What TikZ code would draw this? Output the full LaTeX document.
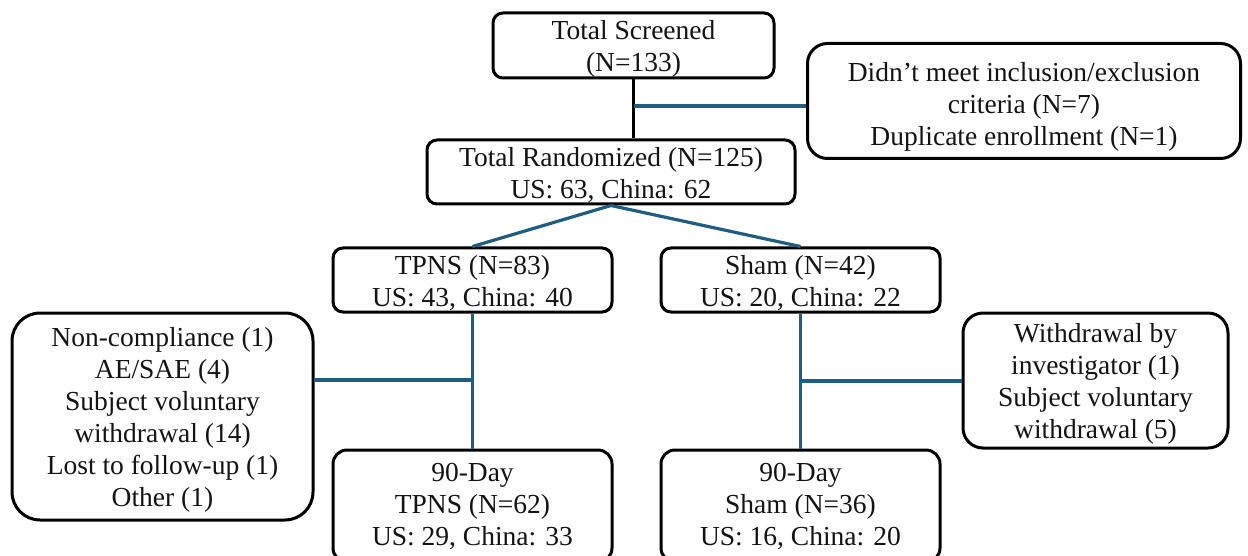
\documentclass[tikz,border=0pt]{standalone}
\usepackage{fontspec}
\setmainfont{Liberation Serif}
\definecolor{linkblue}{RGB}{31,94,128}
\tikzset{
  box/.style={draw=black, line width=3pt, fill=white, inner sep=0pt},
  txt/.style={align=center, inner sep=0pt, yshift=-3.5pt,
    font=\fontsize{27.5}{32}\selectfont, text=black!92},
  link/.style={draw=linkblue, line width=3.2pt},
  blk/.style={draw=black, line width=3pt},
}
\begin{document}
\begin{tikzpicture}[x=1pt,y=-1pt]
\useasboundingbox (0,0) rectangle (1248,556);
% nodes
\node[box, rounded corners=10pt, minimum width=281pt, minimum height=65pt,
  label={[txt]center:{Total Screened\\(N=133)}}] (scr) at (633.5,45.5) {};
\node[box, rounded corners=20pt, minimum width=433pt, minimum height=115pt,
  label={[txt,yshift=-2pt]center:{Didn’t meet inclusion/exclusion\\criteria (N=7)\\Duplicate enrollment (N=1)}}] (crit) at (1024,101) {};
\node[box, rounded corners=10pt, minimum width=368pt, minimum height=64pt,
  label={[txt]center:{Total Randomized (N=125)\\US: 63, China: 62}}] (rand) at (611,172) {};
\node[box, rounded corners=10pt, minimum width=279pt, minimum height=64pt,
  label={[txt]center:{TPNS (N=83)\\US: 43, China: 40}}] (tpns) at (472.5,280) {};
\node[box, rounded corners=10pt, minimum width=279pt, minimum height=64pt,
  label={[txt]center:{Sham (N=42)\\US: 20, China: 22}}] (sham) at (800.5,280) {};
\node[box, rounded corners=28pt, minimum width=301pt, minimum height=207pt,
  label={[txt]center:{Non-compliance (1)\\AE/SAE (4)\\Subject voluntary\\withdrawal (14)\\Lost to follow-up (1)\\Other (1)}}] (nc) at (162.5,416.5) {};
\node[box, rounded corners=20pt, minimum width=265pt, minimum height=135pt,
  label={[txt]center:{Withdrawal by\\investigator (1)\\Subject voluntary\\withdrawal (5)}}] (wd) at (1095.5,380.5) {};
\node[box, rounded corners=14pt, minimum width=279pt, minimum height=112pt,
  label={[txt,yshift=3.5pt]center:{90-Day\\TPNS (N=62)\\US: 29, China: 33}}] (dt) at (472.5,506) {};
\node[box, rounded corners=14pt, minimum width=279pt, minimum height=112pt,
  label={[txt,yshift=3.5pt]center:{90-Day\\Sham (N=36)\\US: 16, China: 20}}] (ds) at (800.5,506) {};
% branch points
\coordinate (b1) at (633.5,106);
\coordinate (b2) at (472.5,380);
\coordinate (b3) at (800.5,381);
% connectors
\draw[blk] (scr.south) -- (scr.south |- rand.north);
\draw[link] (b1) -- (b1 -| crit.west);
\draw[link] (rand.south) -- (tpns.north);
\draw[link] (rand.south) -- (sham.north);
\draw[link] (tpns.south) -- (dt.north);
\draw[link] (b2) -- (b2 -| nc.east);
\draw[link] (sham.south) -- (ds.north);
\draw[link] (b3) -- (b3 -| wd.west);
\end{tikzpicture}
\end{document}
